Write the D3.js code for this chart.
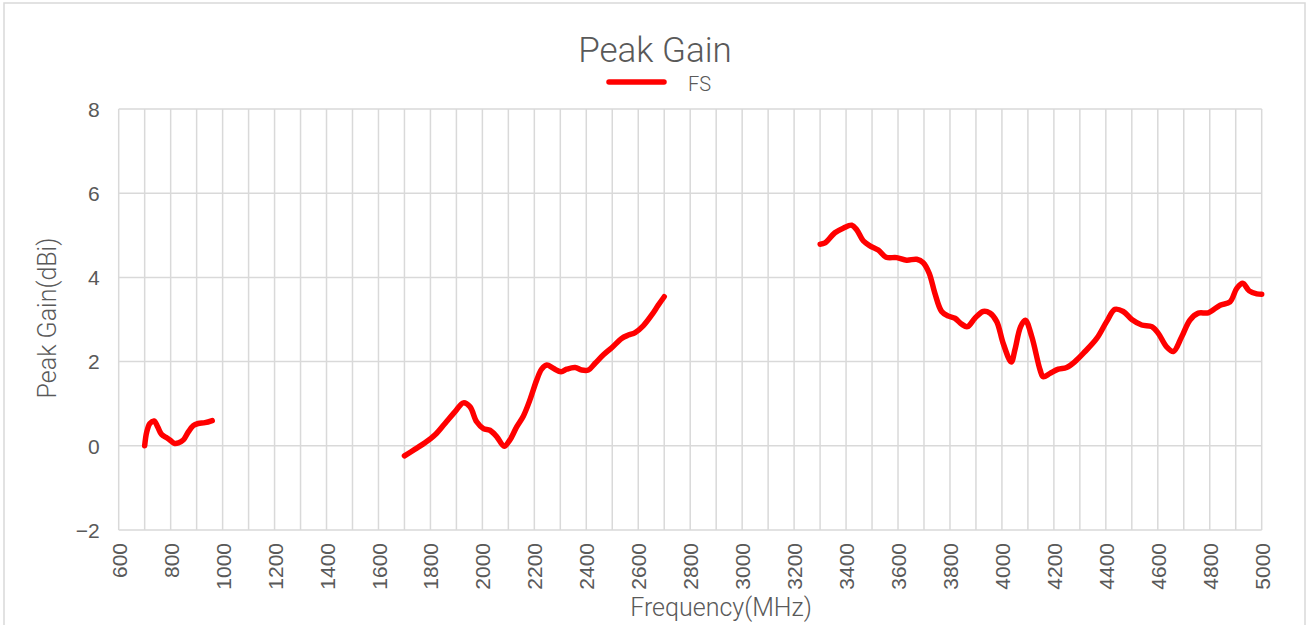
<!DOCTYPE html>
<html>
<head>
<meta charset="utf-8">
<script src="https://cdn.jsdelivr.net/npm/d3@7"></script>
<style>
  html, body { margin: 0; padding: 0; background: #fff; }
  svg { display: block; font-family: Roboto, "Noto Sans", sans-serif; }
</style>
</head>
<body>
<svg id="chart" width="1307" height="625"></svg>
<script>
// ---- data ----
const band1Freq = [700, 708, 720, 736, 750, 765, 785, 797, 814, 830, 849, 868, 887, 906, 932, 960];
const band1Gain = [0.00, 0.33, 0.53, 0.59, 0.45, 0.27, 0.19, 0.14, 0.06, 0.07, 0.14, 0.33, 0.48, 0.53, 0.55, 0.60];

const band2Freq = [1700, 1741, 1779, 1818, 1856, 1895, 1927, 1952, 1978, 2004, 2029, 2055, 2084, 2106, 2132, 2158, 2183, 2209, 2228, 2248, 2273, 2303, 2325, 2357, 2382, 2408, 2434, 2466, 2498, 2536, 2562, 2588, 2619, 2652, 2677, 2700];
const band2Gain = [-0.24, -0.08, 0.07, 0.26, 0.53, 0.81, 1.02, 0.93, 0.57, 0.41, 0.37, 0.22, -0.01, 0.14, 0.45, 0.71, 1.09, 1.56, 1.82, 1.92, 1.84, 1.76, 1.82, 1.86, 1.80, 1.80, 1.96, 2.16, 2.33, 2.55, 2.63, 2.69, 2.85, 3.11, 3.34, 3.54];

const band3Freq = [3300, 3319, 3357, 3389, 3422, 3441, 3466, 3492, 3524, 3554, 3595, 3633, 3672, 3697, 3720, 3742, 3768, 3794, 3819, 3845, 3867, 3896, 3928, 3954, 3980, 4005, 4036, 4050, 4072, 4090, 4115, 4147, 4159, 4185, 4217, 4249, 4281, 4320, 4365, 4403, 4435, 4467, 4500, 4538, 4577, 4602, 4634, 4660, 4692, 4724, 4756, 4794, 4840, 4878, 4904, 4927, 4952, 4981, 5000];
const band3Gain = [4.79, 4.82, 5.06, 5.17, 5.24, 5.13, 4.87, 4.75, 4.65, 4.48, 4.47, 4.41, 4.43, 4.35, 4.10, 3.62, 3.19, 3.08, 3.03, 2.89, 2.83, 3.03, 3.19, 3.15, 2.95, 2.43, 1.99, 2.28, 2.83, 2.98, 2.59, 1.80, 1.64, 1.72, 1.82, 1.86, 2.00, 2.24, 2.55, 2.95, 3.24, 3.19, 3.00, 2.87, 2.83, 2.67, 2.35, 2.24, 2.59, 2.99, 3.15, 3.16, 3.34, 3.42, 3.74, 3.86, 3.68, 3.61, 3.60];

const xTickLabels = [600, 800, 1000, 1200, 1400, 1600, 1800, 2000, 2200, 2400, 2600, 2800, 3000, 3200, 3400, 3600, 3800, 4000, 4200, 4400, 4600, 4800, 5000];
const yTickLabels = [-2, 0, 2, 4, 6, 8];
const xGridStep = 100;

const titleText = "Peak Gain";
const seriesName = "FS";
const xTitle = "Frequency(MHz)";
const yTitle = "Peak Gain(dBi)";

// ---- layout ----
const svg = d3.select("#chart");
const plot = { left: 118.7, right: 1261.7, top: 109, bottom: 530 };
const textColor = "#595959";
const gridColor = "#d9d9d9";
const lineColor = "#ff0000";

const x = d3.scaleLinear().domain([600, 5000]).range([plot.left, plot.right]);
const y = d3.scaleLinear().domain([-2, 8]).range([plot.bottom, plot.top]);

// chart border
svg.append("rect")
  .attr("x", 4).attr("y", 3).attr("width", 1301).attr("height", 640)
  .attr("fill", "#fff").attr("stroke", gridColor).attr("stroke-width", 1.5);

// vertical grid lines every 100 MHz
const xGrid = d3.range(600, 5000 + 1, xGridStep);
svg.append("g").selectAll("line").data(xGrid).join("line")
  .attr("x1", d => x(d)).attr("x2", d => x(d))
  .attr("y1", plot.top).attr("y2", plot.bottom)
  .attr("stroke", gridColor).attr("stroke-width", 1.5);

// horizontal grid lines
svg.append("g").selectAll("line").data(yTickLabels).join("line")
  .attr("x1", plot.left).attr("x2", plot.right)
  .attr("y1", d => y(d)).attr("y2", d => y(d))
  .attr("stroke", gridColor).attr("stroke-width", 1.5);

// x axis labels
const xAxis = d3.axisBottom(x).tickValues(xTickLabels).tickSize(0).tickFormat(d3.format("d"));
const gx = svg.append("g").attr("transform", `translate(0,${plot.bottom})`).call(xAxis);
gx.select(".domain").remove();
gx.selectAll("text")
  .attr("fill", textColor).attr("font-size", 21)
  .attr("transform", "rotate(-90)")
  .attr("text-anchor", "end")
  .attr("x", -13).attr("y", 0).attr("dy", "0.36em");

// y axis labels
const yAxis = d3.axisLeft(y).tickValues(yTickLabels).tickSize(0).tickFormat(d3.format("d"));
const gy = svg.append("g").attr("transform", `translate(${plot.left},0)`).call(yAxis);
gy.select(".domain").remove();
gy.selectAll("text")
  .attr("fill", textColor).attr("font-size", 21)
  .attr("x", -19).attr("dy", "0.35em");

// series line
const line = d3.line()
  .x(d => x(d[0])).y(d => y(d[1]))
  .curve(d3.curveCatmullRom.alpha(0.5));

const bands = [
  d3.zip(band1Freq, band1Gain),
  d3.zip(band2Freq, band2Gain),
  d3.zip(band3Freq, band3Gain)
];
svg.append("g").selectAll("path").data(bands).join("path")
  .attr("d", line)
  .attr("fill", "none").attr("stroke", lineColor)
  .attr("stroke-width", 5.5)
  .attr("stroke-linecap", "round").attr("stroke-linejoin", "round");

// title
svg.append("text").text(titleText)
  .attr("x", 655).attr("y", 62)
  .attr("text-anchor", "middle")
  .attr("font-size", 35).attr("font-weight", 300)
  .attr("fill", textColor);

// legend
svg.append("line")
  .attr("x1", 609).attr("x2", 664).attr("y1", 82).attr("y2", 82)
  .attr("stroke", lineColor).attr("stroke-width", 5.5).attr("stroke-linecap", "round");
svg.append("text").text(seriesName)
  .attr("x", 688).attr("y", 91)
  .attr("font-size", 20).attr("font-weight", 300)
  .attr("fill", textColor);

// axis titles
svg.append("text").text(xTitle)
  .attr("x", 721).attr("y", 616)
  .attr("text-anchor", "middle")
  .attr("font-size", 25).attr("font-weight", 300)
  .attr("fill", textColor);

svg.append("text").text(yTitle)
  .attr("transform", `translate(56,318) rotate(-90)`)
  .attr("text-anchor", "middle")
  .attr("font-size", 25).attr("font-weight", 300)
  .attr("fill", textColor);
</script>
</body>
</html>
